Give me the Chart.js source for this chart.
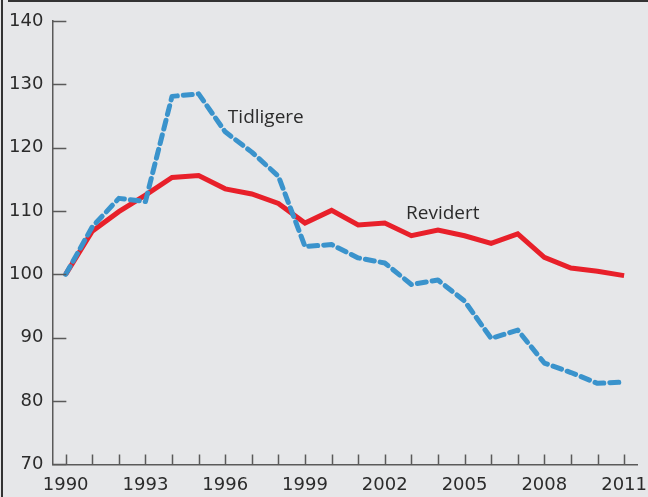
<!DOCTYPE html>
<html>
<head>
<meta charset="utf-8">
<script src="https://cdn.jsdelivr.net/npm/chart.js@4"></script>
<style>
  html, body { margin: 0; padding: 0; background: #e6e7e9; overflow: hidden; }
  #wrap { position: relative; width: 648px; height: 497px; overflow: hidden; }
</style>
</head>
<body>
<div id="wrap"><canvas id="chart" width="657" height="506"></canvas></div>
<script>
const years = [1990, 1991, 1992, 1993, 1994, 1995, 1996, 1997, 1998, 1999, 2000,
  2001, 2002, 2003, 2004, 2005, 2006, 2007, 2008, 2009, 2010, 2011];
const revidert = [100, 106.8, 109.9, 112.5, 115.3, 115.6, 113.5, 112.7, 111.2, 108.1, 110.1,
  107.8, 108.1, 106.1, 107.0, 106.1, 104.9, 106.4, 102.7, 101.0, 100.5, 99.8];
const tidligere = [100, 107.5, 112.0, 111.5, 128.1, 128.5, 122.5, 119.3, 115.5, 104.4, 104.7,
  102.6, 101.8, 98.4, 99.1, 95.8, 89.9, 91.2, 86.0, 84.5, 82.8, 83.0];
const yTicks = [70, 80, 90, 100, 110, 120, 130, 140];
const seriesLabels = [
  { text: 'Tidligere', year: 1996.1, value: 124.8 },
  { text: 'Revidert', year: 2002.8, value: 109.6 }
];

const axisColor = '#5a5a5a';
const textColor = '#2b2b2b';
const font = { family: '"DejaVu Sans", sans-serif', size: 18 };

// background, frame, inward tick marks and series labels
const decor = {
  id: 'decor',
  beforeDraw(chart) {
    const ctx = chart.ctx;
    ctx.save();
    ctx.fillStyle = '#e6e7e9';
    ctx.fillRect(0, 0, chart.width, chart.height);
    ctx.fillStyle = '#333';
    ctx.fillRect(1, 0, 2, chart.height);
    ctx.fillRect(8, 0, chart.width - 8, 2);
    ctx.restore();
  },
  afterDatasetsDraw(chart) {
    const ctx = chart.ctx;
    const x = chart.scales.x, y = chart.scales.y;
    ctx.save();
    ctx.strokeStyle = axisColor;
    ctx.lineWidth = 1.5;
    ctx.beginPath();
    yTicks.forEach(v => {
      const py = Math.round(y.getPixelForValue(v)) + 0.5;
      ctx.moveTo(x.left, py);
      ctx.lineTo(x.left + 14, py);
    });
    years.forEach(v => {
      const px = Math.round(x.getPixelForValue(v)) + 0.5;
      ctx.moveTo(px, y.bottom);
      ctx.lineTo(px, y.bottom - 10);
    });
    ctx.stroke();
    ctx.fillStyle = textColor;
    ctx.font = '19px "Open Sans", sans-serif';
    ctx.textBaseline = 'middle';
    seriesLabels.forEach(l => {
      ctx.fillText(l.text, x.getPixelForValue(l.year), y.getPixelForValue(l.value));
    });
    ctx.restore();
  }
};

new Chart(document.getElementById('chart'), {
  type: 'line',
  data: {
    datasets: [
      {
        label: 'Tidligere',
        data: years.map((yr, i) => ({ x: yr, y: tidligere[i] })),
        borderColor: '#3a93cc',
        borderWidth: 5,
        borderDash: [9, 6],
        borderCapStyle: 'round',
        borderJoinStyle: 'round',
        pointRadius: 0,
        tension: 0
      },
      {
        label: 'Revidert',
        data: years.map((yr, i) => ({ x: yr, y: revidert[i] })),
        borderColor: '#e8202a',
        borderWidth: 5,
        borderJoinStyle: 'miter',
        pointRadius: 0,
        tension: 0
      }
    ]
  },
  options: {
    responsive: false,
    animation: false,
    layout: { padding: { left: 0, top: 21, right: 0, bottom: 0 } },
    plugins: { legend: { display: false }, tooltip: { enabled: false } },
    scales: {
      x: {
        type: 'linear',
        min: 1989.5,
        max: 2011.5,
        afterBuildTicks: s => { s.ticks = years.map(v => ({ value: v })); },
        grid: { display: false, drawTicks: false },
        border: { display: true, color: axisColor, width: 1.5 },
        ticks: {
          autoSkip: false,
          maxRotation: 0,
          padding: 10,
          color: textColor,
          font: font,
          callback: v => (v - 1990) % 3 === 0 || v === 2011 ? String(v) : ''
        }
      },
      y: {
        min: 70,
        max: 140,
        afterBuildTicks: s => { s.ticks = yTicks.map(v => ({ value: v })); },
        grid: { display: false, drawTicks: false },
        border: { display: true, color: axisColor, width: 1.5 },
        ticks: { padding: 9, color: textColor, font: font }
      }
    }
  },
  plugins: [decor]
});
</script>
</body>
</html>
